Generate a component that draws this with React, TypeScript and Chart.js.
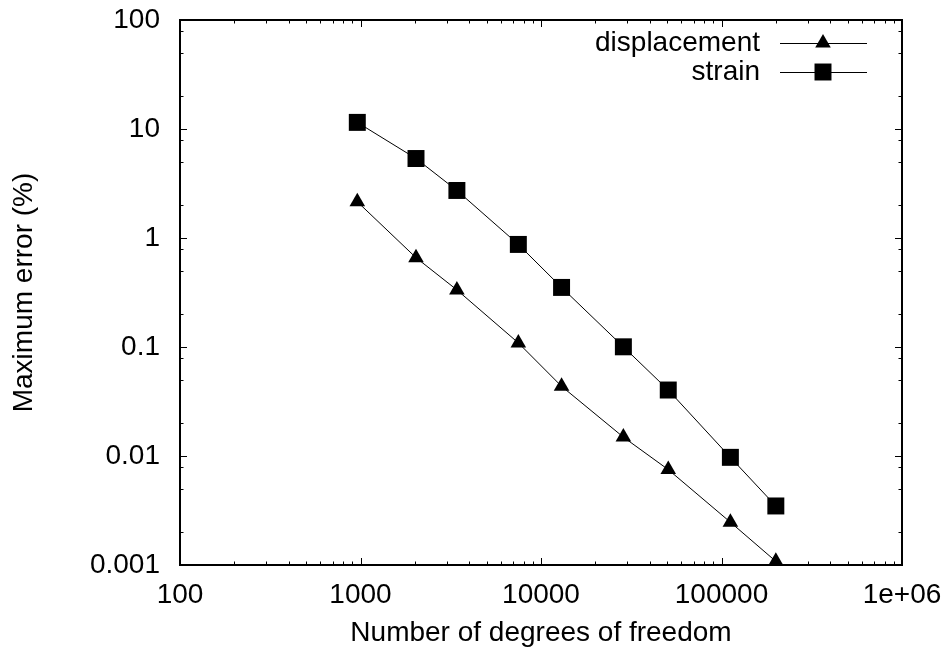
import React, { useEffect, useRef } from 'react';
import { Chart, registerables } from 'chart.js';

Chart.register(...registerables);

// ---- Data ----
const dofs = [960, 2030, 3420, 7490, 13000, 28600, 50700, 112000, 200000];
const displacementErr = [2.15, 0.66, 0.334, 0.109, 0.0436, 0.0149, 0.0075, 0.00247, 0.00108];
const strainErr = [11.5, 5.36, 2.73, 0.873, 0.352, 0.1004, 0.0403, 0.00972, 0.00348];

const seriesLabels = ['displacement', 'strain'];
const xTickValues = [100, 1000, 10000, 100000, 1000000];
const xTickLabels = ['100', '1000', '10000', '100000', '1e+06'];
const yTickValues = [0.001, 0.01, 0.1, 1, 10, 100];
const yTickLabels = ['0.001', '0.01', '0.1', '1', '10', '100'];
const xMinorMultipliers = [2, 3, 4, 5, 6, 7, 8, 9];
const yMinorMultipliers = [2, 5, 8];
const xTitle = 'Number of degrees of freedom';
const yTitle = 'Maximum error (%)';

const FONT = '"Liberation Sans", Arial, Helvetica, sans-serif';
const FONT_SIZE = 28;

const framePlugin = {
  id: 'gnuFrame',
  beforeDatasetsDraw(chart: any) {
    const { ctx, chartArea, scales } = chart;
    const { left, right, top, bottom } = chartArea;
    const x = scales.x;
    const y = scales.y;
    const major = 7;
    const minor = 3.5;
    ctx.save();
    ctx.strokeStyle = '#000';
    ctx.lineWidth = 1;
    ctx.beginPath();
    xTickValues.forEach((v, i) => {
      const px = Math.round(x.getPixelForValue(v)) + 0.5;
      ctx.moveTo(px, bottom); ctx.lineTo(px, bottom - major);
      ctx.moveTo(px, top); ctx.lineTo(px, top + major);
      if (i < xTickValues.length - 1) {
        xMinorMultipliers.forEach((m) => {
          const p = Math.round(x.getPixelForValue(v * m)) + 0.5;
          ctx.moveTo(p, bottom); ctx.lineTo(p, bottom - minor);
          ctx.moveTo(p, top); ctx.lineTo(p, top + minor);
        });
      }
    });
    yTickValues.forEach((v, i) => {
      const py = Math.round(y.getPixelForValue(v)) + 0.5;
      ctx.moveTo(left, py); ctx.lineTo(left + major, py);
      ctx.moveTo(right, py); ctx.lineTo(right - major, py);
      if (i < yTickValues.length - 1) {
        yMinorMultipliers.forEach((m) => {
          const p = Math.round(y.getPixelForValue(v * m)) + 0.5;
          ctx.moveTo(left, p); ctx.lineTo(left + minor, p);
          ctx.moveTo(right, p); ctx.lineTo(right - minor, p);
        });
      }
    });
    ctx.stroke();
    ctx.lineWidth = 2;
    ctx.strokeRect(left, top, right - left, bottom - top);
    ctx.restore();
  },
};

const legendPlugin = {
  id: 'gnuLegend',
  afterDraw(chart: any) {
    const { ctx } = chart;
    const textRight = 760;
    const lineStart = 780;
    const lineEnd = 867;
    const markX = 823;
    const rows = [43, 72];
    ctx.save();
    ctx.font = `${FONT_SIZE}px ${FONT}`;
    ctx.fillStyle = '#000';
    ctx.strokeStyle = '#000';
    ctx.textAlign = 'right';
    ctx.textBaseline = 'middle';
    chart.data.datasets.forEach((ds: any, i: number) => {
      const yy = rows[i];
      ctx.fillText(ds.label, textRight, yy);
      ctx.lineWidth = 1;
      ctx.beginPath();
      ctx.moveTo(lineStart, yy + 0.5);
      ctx.lineTo(lineEnd, yy + 0.5);
      ctx.stroke();
      const r = ds.pointRadius;
      ctx.beginPath();
      if (ds.pointStyle === 'triangle') {
        ctx.moveTo(markX, yy - r);
        ctx.lineTo(markX + r * Math.sin((2 * Math.PI) / 3), yy + r / 2);
        ctx.lineTo(markX - r * Math.sin((2 * Math.PI) / 3), yy + r / 2);
        ctx.closePath();
      } else {
        const s = Math.SQRT1_2 * r;
        ctx.rect(markX - s, yy - s, 2 * s, 2 * s);
      }
      ctx.fill();
    });
    ctx.restore();
  },
};

export default function App() {
  const canvasRef = useRef<HTMLCanvasElement | null>(null);

  useEffect(() => {
    if (!canvasRef.current) return;
    const font = { family: FONT, size: FONT_SIZE };
    const chart = new Chart(canvasRef.current, {
      type: 'line',
      data: {
        datasets: [
          {
            label: seriesLabels[0],
            data: dofs.map((d, i) => ({ x: d, y: displacementErr[i] })),
            borderColor: '#000',
            borderWidth: 1,
            pointStyle: 'triangle',
            pointRadius: 9,
            pointBackgroundColor: '#000',
            pointBorderColor: '#000',
            pointBorderWidth: 0,
            clip: false,
          } as any,
          {
            label: seriesLabels[1],
            data: dofs.map((d, i) => ({ x: d, y: strainErr[i] })),
            borderColor: '#000',
            borderWidth: 1,
            pointStyle: 'rect',
            pointRadius: 12,
            pointBackgroundColor: '#000',
            pointBorderColor: '#000',
            pointBorderWidth: 0,
            clip: false,
          } as any,
        ],
      },
      options: {
        animation: false,
        responsive: false,
        devicePixelRatio: 1,
        layout: { padding: { top: 20, right: 48, bottom: 0, left: 0 } },
        plugins: {
          legend: { display: false },
          tooltip: { enabled: false },
        },
        scales: {
          x: {
            type: 'logarithmic',
            position: 'bottom',
            min: 100,
            max: 1000000,
            afterBuildTicks: (s: any) => {
              s.ticks = xTickValues.map((v) => ({ value: v }));
            },
            afterFit: (s: any) => {
              s.height = 92;
              s.paddingLeft = 0;
              s.paddingRight = 0;
            },
            grid: { display: false, drawTicks: false },
            border: { display: false },
            ticks: {
              autoSkip: false,
              maxRotation: 0,
              padding: 13,
              color: '#000',
              font,
              callback: (_v: any, i: number) => xTickLabels[i],
            },
            title: {
              display: true,
              text: xTitle,
              color: '#000',
              font,
              padding: { top: 0, bottom: 7 },
            },
          },
          y: {
            type: 'logarithmic',
            position: 'left',
            min: 0.001,
            max: 100,
            afterBuildTicks: (s: any) => {
              s.ticks = yTickValues.map((v) => ({ value: v }));
            },
            afterFit: (s: any) => {
              s.width = 180;
              s.paddingTop = 0;
              s.paddingBottom = 0;
            },
            grid: { display: false, drawTicks: false },
            border: { display: false },
            ticks: {
              autoSkip: false,
              padding: 20,
              color: '#000',
              font,
              callback: (_v: any, i: number) => yTickLabels[i],
            },
            title: {
              display: true,
              text: yTitle,
              color: '#000',
              font,
              padding: { top: 7, bottom: 0 },
            },
          },
        },
      } as any,
      plugins: [framePlugin, legendPlugin],
    });
    return () => chart.destroy();
  }, []);

  return (
    <div style={{ position: 'fixed', left: 0, top: 0, width: 950, height: 657, background: '#fff' }}>
      <canvas ref={canvasRef} width={950} height={657} style={{ width: 950, height: 657, display: 'block' }} />
    </div>
  );
}
